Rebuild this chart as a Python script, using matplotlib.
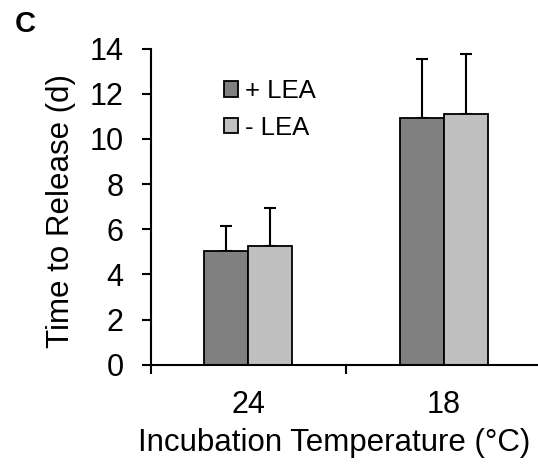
import matplotlib
matplotlib.use("Agg")
import matplotlib.pyplot as plt
from matplotlib.patches import Patch
import numpy as np

# Time to release by incubation temperature, with and without LEA
temperatures = ["24", "18"]
series_names = ["+ LEA", "- LEA"]
plus_lea_mean = [5.04, 10.92]
minus_lea_mean = [5.27, 11.09]
plus_lea_err = [1.12, 2.62]
minus_lea_err = [1.67, 2.69]
y_ticks = [0, 2, 4, 6, 8, 10, 12, 14]

plt.rcParams["font.family"] = ["Liberation Sans", "DejaVu Sans"]

W, H = 538, 468
fig = plt.figure(figsize=(W / 100, H / 100), dpi=100)
ax = fig.add_axes([150.7 / W, 1 - 364.7 / H, (541.5 - 150.7) / W, 316.0 / H])

x = np.arange(len(temperatures))
bw = 0.225
dark, light = "#808080", "#c0c0c0"
err_kw = dict(ecolor="black", elinewidth=1.5, capsize=4.3, capthick=1.5)

ax.bar(x - bw / 2, plus_lea_mean, bw, color=dark, edgecolor="black",
       linewidth=1.3, zorder=2)
ax.bar(x + bw / 2, minus_lea_mean, bw, color=light, edgecolor="black",
       linewidth=1.3, zorder=2)
# upward-only error bars
ax.errorbar(x - bw / 2, plus_lea_mean, yerr=[np.zeros(2), plus_lea_err],
            fmt="none", zorder=1, **err_kw)
ax.errorbar(x + bw / 2, minus_lea_mean, yerr=[np.zeros(2), minus_lea_err],
            fmt="none", zorder=1, **err_kw)

ax.set_xlim(-0.5, len(temperatures) - 0.5)
ax.set_ylim(0, 14)
ax.set_yticks(y_ticks)
ax.set_yticklabels([str(v) for v in y_ticks])

# tick marks at category boundaries, labels at category centres
ax.set_xticks(np.arange(len(temperatures) + 1) - 0.5)
ax.set_xticklabels([])
ax.set_xticks(x, minor=True)
ax.set_xticklabels(temperatures, minor=True)

for s in ["top", "right"]:
    ax.spines[s].set_visible(False)
for s in ["left", "bottom"]:
    ax.spines[s].set_linewidth(1.5)

ax.tick_params(axis="y", direction="out", length=6.5, width=1.5,
               labelsize=22, pad=13)
ax.tick_params(axis="x", which="major", direction="out", length=6.5,
               width=1.5)
ax.tick_params(axis="x", which="minor", length=0, labelsize=22, pad=18)

fig.text(61.5 / W, 1 - 210.5 / H, "Time to Release (d)", rotation=90,
         ha="center", va="center", fontsize=22.5)
fig.text(334 / W, 1 - 443 / H, "Incubation Temperature (°C)",
         ha="center", va="center", fontsize=22.5)
fig.text(25 / W, 1 - 24 / H, "C", ha="center", va="center",
         fontsize=21, fontweight="bold")

handles = [Patch(facecolor=dark, edgecolor="black", linewidth=1.3),
           Patch(facecolor=light, edgecolor="black", linewidth=1.3)]
fig.legend(handles, series_names, loc="upper left",
           bbox_to_anchor=(224 / W, 1 - 79 / H), frameon=False,
           fontsize=18.5, handlelength=0.54, handleheight=0.54,
           handletextpad=0.28, labelspacing=0.5, borderpad=0,
           borderaxespad=0)

fig.savefig("out.png", dpi=100)
